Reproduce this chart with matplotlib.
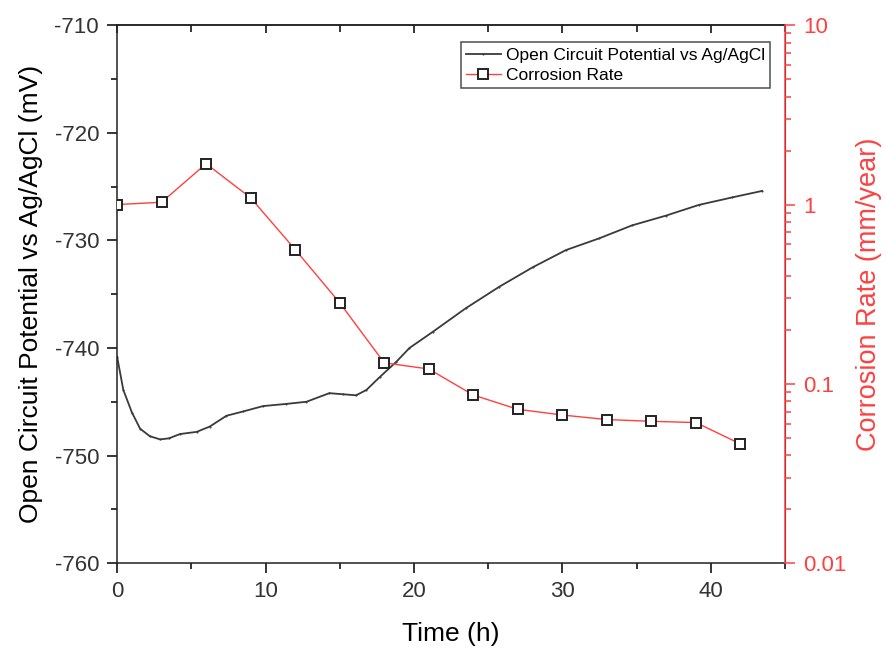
import numpy as np
import matplotlib
matplotlib.use("Agg")
import matplotlib.pyplot as plt
from matplotlib.ticker import MultipleLocator, LogLocator, FuncFormatter, NullFormatter

plt.rcParams['font.family'] = ['Liberation Sans', 'DejaVu Sans']
plt.rcParams['axes.unicode_minus'] = False

# Open circuit potential (mV vs Ag/AgCl)
ocp_time = [0.0, 0.42, 1.0, 1.55, 2.2, 2.9, 3.5, 4.24, 5.36, 6.25, 7.37, 8.5, 9.84,
            11.4, 12.76, 14.3, 15.2, 16.1, 16.8, 17.7, 18.8, 19.7, 21.27, 23.5,
            25.76, 28.0, 30.24, 32.5, 34.7, 36.97, 39.2, 41.45, 43.46]
ocp_mv = [-740.8, -743.9, -746.0, -747.5, -748.2, -748.5, -748.4, -748.0, -747.8,
          -747.3, -746.3, -745.9, -745.4, -745.2, -745.0, -744.2, -744.3, -744.4,
          -743.9, -742.7, -741.3, -740.0, -738.5, -736.3, -734.3, -732.5, -730.9,
          -729.8, -728.6, -727.7, -726.7, -726.0, -725.4]

# Corrosion rate (mm/year)
cr_time = [0, 3, 6, 9, 12, 15, 18, 21, 24, 27, 30, 33, 36, 39, 42]
cr_rate = [1.0, 1.03, 1.69, 1.09, 0.561, 0.283, 0.131, 0.121, 0.0866, 0.0721,
           0.067, 0.0632, 0.0618, 0.0608, 0.0462]

red = '#ff4040'
fig = plt.figure(figsize=(8.87, 6.48), dpi=100)
ax = fig.add_axes([0.132, 0.131, 0.753, 0.830])

ax.plot(ocp_time, ocp_mv, color='#3a3a3a', lw=1.3, marker='.', markersize=1,
        label='Open Circuit Potential vs Ag/AgCl')
ax.set_xlim(0, 45)
ax.set_ylim(-760, -710)
ax.xaxis.set_major_locator(MultipleLocator(10))
ax.xaxis.set_minor_locator(MultipleLocator(5))
ax.yaxis.set_major_locator(MultipleLocator(10))
ax.yaxis.set_minor_locator(MultipleLocator(5))
ax.tick_params(which='both', direction='out', labelsize=16, labelcolor='#333333',
               width=1.1, pad=6, top=False)
ax.tick_params(which='major', length=7)
ax.tick_params(which='minor', length=4)
ax.set_xlabel('Time (h)', fontsize=19, labelpad=14)
ax.set_ylabel('Open Circuit Potential vs Ag/AgCl (mV)', fontsize=19, labelpad=8)
for s in ['left', 'bottom', 'top']:
    ax.spines[s].set_linewidth(1.1)
    ax.spines[s].set_color('#222222')

ax2 = ax.twinx()
ax2.plot(cr_time, cr_rate, color=red, lw=1.0, marker='s', markersize=7,
         mfc='white', mec='#222222', mew=1.4, label='Corrosion Rate')
ax2.set_yscale('log')
ax2.set_ylim(0.01, 10)
ax2.yaxis.set_major_locator(LogLocator(base=10))
ax2.yaxis.set_minor_locator(LogLocator(base=10, subs=np.arange(2, 10)))
ax2.yaxis.set_major_formatter(FuncFormatter(lambda v, p: '%g' % v))
ax2.yaxis.set_minor_formatter(NullFormatter())
ax2.tick_params(axis='y', which='both', direction='out', colors=red, labelsize=16,
                width=1.1, pad=6)
ax2.tick_params(axis='y', which='major', length=7)
ax2.tick_params(axis='y', which='minor', length=4)
ax2.set_ylabel('Corrosion Rate (mm/year)', fontsize=19.5, color=red, labelpad=7)
ax2.spines['right'].set_color(red)
ax2.spines['right'].set_linewidth(1.1)
for s in ['left', 'top', 'bottom']:
    ax2.spines[s].set_visible(False)

# inward ticks on the top spine
top_ax = ax.secondary_xaxis('top')
top_ax.xaxis.set_major_locator(MultipleLocator(10))
top_ax.xaxis.set_minor_locator(MultipleLocator(5))
top_ax.tick_params(which='both', direction='in', labeltop=False, width=1.1)
top_ax.tick_params(which='major', length=6)
top_ax.tick_params(which='minor', length=5)
top_ax.spines['top'].set_linewidth(1.1)
top_ax.spines['top'].set_color('#222222')

h1, l1 = ax.get_legend_handles_labels()
h2, l2 = ax2.get_legend_handles_labels()
leg = ax2.legend(h1 + h2, l1 + l2, loc='upper right', bbox_to_anchor=(0.978, 0.968),
                 borderaxespad=0, fontsize=12.5, frameon=True, fancybox=False,
                 edgecolor='#222222', handlelength=2.0, handletextpad=0.3,
                 borderpad=0.3, labelspacing=0.3)
leg.get_frame().set_linewidth(1.1)

fig.savefig('out.png', dpi=100)
